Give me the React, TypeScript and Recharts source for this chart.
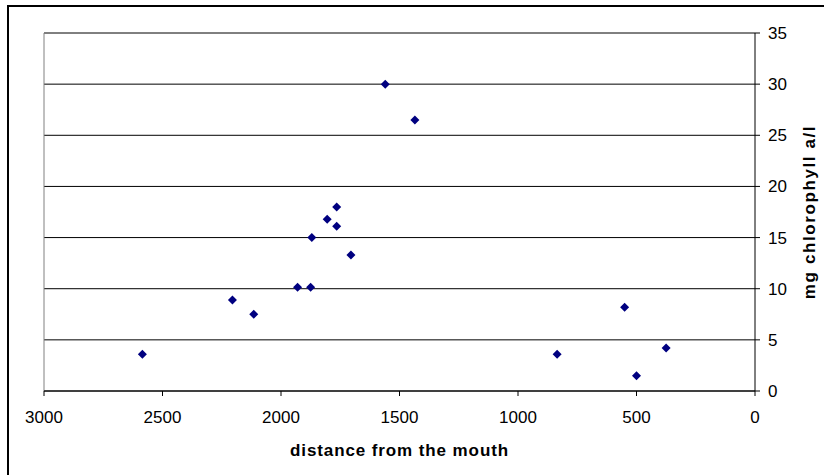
import React from "react";
import {
  ScatterChart, Scatter, XAxis, YAxis, CartesianGrid, ReferenceLine, Label,
} from "recharts";

const DISTANCE = [2585, 2205, 2115, 1930, 1875, 1870, 1805, 1765, 1765, 1705, 1560, 1435, 835, 550, 500, 375];
const CHLOROPHYLL = [3.6, 8.9, 7.5, 10.15, 10.15, 15.0, 16.8, 18.0, 16.1, 13.3, 30.0, 26.5, 3.6, 8.2, 1.5, 4.2];
const X_TICKS = [0, 500, 1000, 1500, 2000, 2500, 3000];
const Y_TICKS = [0, 5, 10, 15, 20, 25, 30, 35];

const DATA = DISTANCE.map((d, i) => ({ distance: d, chl: CHLOROPHYLL[i] }));

const FONT = '"Liberation Sans", Arial, sans-serif';

function Diamond(props: any) {
  const { cx, cy } = props;
  const r = 4.5;
  return (
    <polygon
      points={`${cx},${cy - r} ${cx + r},${cy} ${cx},${cy + r} ${cx - r},${cy}`}
      fill="#000080"
    />
  );
}

export default function App() {
  return (
    <div
      style={{
        position: "absolute", left: 0, top: 0, width: 824, height: 475,
        overflow: "hidden", background: "#fff", fontFamily: FONT,
      }}
    >
      {/* outer frame, cut off on the right and bottom */}
      <div
        style={{
          position: "absolute", left: 7, top: 5, width: 900, height: 600,
          border: "2px solid #000",
        }}
      />
      <div style={{ position: "absolute", left: 0, top: 0 }}>
        <ScatterChart width={824} height={475} margin={{ top: 33, left: 44, right: 0, bottom: 0 }}>
          <CartesianGrid vertical={false} stroke="#000" strokeOpacity={1} />
          <XAxis
            type="number"
            dataKey="distance"
            domain={[0, 3000]}
            ticks={X_TICKS}
            reversed
            height={84}
            tickSize={5}
            tickMargin={15}
            axisLine={{ stroke: "#000" }}
            tickLine={{ stroke: "#000" }}
            tick={{ fill: "#000", fontSize: 17, fontFamily: FONT }}
          >
            <Label
              value="distance from the mouth"
              position="insideBottom"
              offset={19}
              style={{ fill: "#000", fontSize: 17, fontWeight: "bold", letterSpacing: 0.9, fontFamily: FONT }}
            />
          </XAxis>
          <YAxis
            type="number"
            dataKey="chl"
            orientation="right"
            domain={[0, 35]}
            ticks={Y_TICKS}
            width={69}
            tickSize={5}
            tickMargin={8}
            axisLine={{ stroke: "#000" }}
            tickLine={{ stroke: "#000" }}
            tick={{ fill: "#000", fontSize: 17, fontFamily: FONT, textAnchor: "start" }}
          >
            <Label
              value="mg chlorophyll a/l"
              angle={-90}
              position="insideRight"
              offset={15}
              style={{ fill: "#000", fontSize: 17, fontWeight: "bold", letterSpacing: 1.6, textAnchor: "middle", fontFamily: FONT }}
            />
          </YAxis>
          <ReferenceLine y={35} stroke="#808080" />
          <ReferenceLine x={3000} stroke="#808080" />
          <Scatter data={DATA} shape={Diamond} isAnimationActive={false} />
        </ScatterChart>
      </div>
    </div>
  );
}
